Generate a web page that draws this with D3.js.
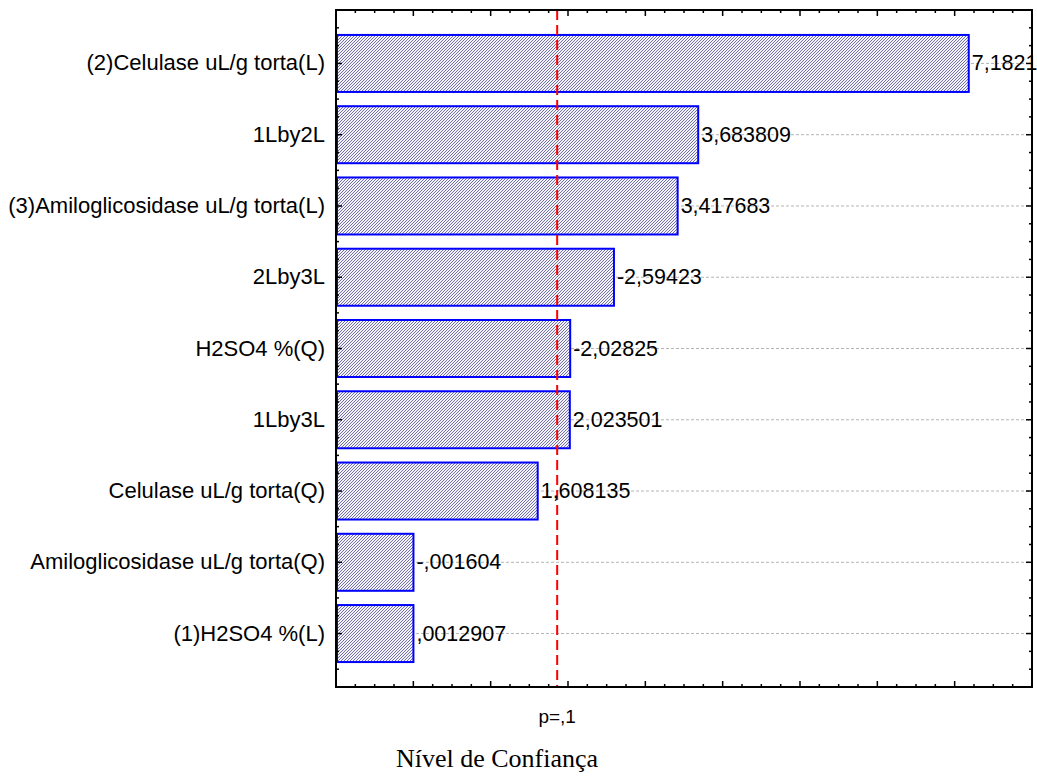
<!DOCTYPE html>
<html>
<head>
<meta charset="utf-8">
<script src="https://cdn.jsdelivr.net/npm/d3@7"></script>
<style>
body { margin: 0; background: #fff; }
svg { display: block; }
.lbl { font-family: "Liberation Sans", Arial, sans-serif; font-size: 21.5px; fill: #000; }
.cat { font-size: 22px; }
</style>
</head>
<body>
<script>
// effects, top to bottom (Pareto order)
const effects = [
	'(2)Celulase uL/g torta(L)',
	'1Lby2L',
	'(3)Amiloglicosidase uL/g torta(L)',
	'2Lby3L',
	'H2SO4 %(Q)',
	'1Lby3L',
	'Celulase uL/g torta(Q)',
	'Amiloglicosidase uL/g torta(Q)',
	'(1)H2SO4 %(L)'
];
const tValues = [7.1821, 3.683809, 3.417683, -2.59423, -2.02825, 2.023501, 1.608135, -0.001604, 0.0012907];
const xDomain = [-1, 8];
const pLimit = 1.86;
const pLabel = 'p=,1';
const xTitle = 'Nível de Confiança';

const W = 1037, H = 776;
const m = { left: 336, right: 1032, top: 10, bottom: 687 };

const svg = d3.select('body').append('svg').attr('width', W).attr('height', H);

const x = d3.scaleLinear().domain(xDomain).range([m.left, m.right]);
const y = d3.scaleBand().domain(effects).range([m.top, m.bottom])
	.paddingInner(0.2).paddingOuter(0.35);

const fmt = v => String(v).replace('.', ',').replace(/^(-?)0,/, '$1,');

// hatch fill
const pat = svg.append('defs').append('pattern')
	.attr('id', 'hatch').attr('patternUnits', 'userSpaceOnUse')
	.attr('width', 3).attr('height', 3);
pat.append('rect').attr('width', 3).attr('height', 3).attr('fill', '#f2f2f8');
pat.append('path').attr('d', 'M-1,1 L1,-1 M0,3 L3,0 M2,4 L4,2')
	.attr('stroke', '#50508e').attr('stroke-width', 0.8);

// dotted grid lines at bar centres
svg.selectAll('line.grid').data(effects).enter().append('line')
	.attr('class', 'grid')
	.attr('x1', m.left).attr('x2', m.right)
	.attr('y1', d => y(d) + y.bandwidth() / 2)
	.attr('y2', d => y(d) + y.bandwidth() / 2)
	.attr('stroke', '#b4b4b4').attr('stroke-width', 1).attr('stroke-dasharray', '3,2');

// bars
svg.selectAll('rect.bar').data(tValues).enter().append('rect')
	.attr('class', 'bar')
	.attr('x', x(xDomain[0]) + 1)
	.attr('y', (d, i) => y(effects[i]))
	.attr('width', d => x(Math.abs(d)) - x(xDomain[0]) - 1)
	.attr('height', y.bandwidth())
	.attr('fill', 'url(#hatch)')
	.attr('stroke', '#0000ff').attr('stroke-width', 2);

// p limit line
svg.append('line')
	.attr('x1', x(pLimit)).attr('x2', x(pLimit))
	.attr('y1', m.top).attr('y2', m.bottom)
	.attr('stroke', '#ff0000').attr('stroke-width', 2).attr('stroke-dasharray', '10,5');

// value labels
svg.selectAll('text.val').data(tValues).enter().append('text')
	.attr('class', 'lbl val')
	.attr('x', d => x(Math.abs(d)) + 3)
	.attr('y', (d, i) => y(effects[i]) + y.bandwidth() / 2 + 7)
	.text(d => fmt(d));

// category labels
svg.selectAll('text.cat').data(effects).enter().append('text')
	.attr('class', 'lbl cat')
	.attr('x', m.left - 11)
	.attr('y', d => y(d) + y.bandwidth() / 2 + 7)
	.attr('text-anchor', 'end')
	.text(d => d);

// frame
svg.append('rect')
	.attr('x', m.left).attr('y', m.top)
	.attr('width', m.right - m.left).attr('height', m.bottom - m.top)
	.attr('fill', 'none').attr('stroke', '#000').attr('stroke-width', 2);

// x ticks, inward on top and bottom
const xTicks = d3.range(xDomain[0], xDomain[1] + 0.001, 0.25);
const isMajor = v => Math.abs(v - Math.round(v)) < 1e-6;
[[m.bottom, -1], [m.top, 1]].forEach(([yy, dir]) => {
	svg.selectAll(null).data(xTicks).enter().append('line')
		.attr('x1', d => x(d)).attr('x2', d => x(d))
		.attr('y1', yy).attr('y2', d => yy + dir * (isMajor(d) ? 6 : 3))
		.attr('stroke', '#000').attr('stroke-width', 1.5);
});

// y ticks, quarter steps, longer at bar centres
const step = y.step();
const c0 = y(effects[0]) + y.bandwidth() / 2;
const yTicks = d3.range(-2, (effects.length - 1) * 4 + 3).map(k => ({ pos: c0 + k * step / 4, major: k % 4 === 0 }));
[[m.left, 1], [m.right, -1]].forEach(([xx, dir]) => {
	svg.selectAll(null).data(yTicks).enter().append('line')
		.attr('y1', d => d.pos).attr('y2', d => d.pos)
		.attr('x1', xx).attr('x2', d => xx + dir * (d.major ? 6 : 3))
		.attr('stroke', '#000').attr('stroke-width', 1.5);
});

// p label and title
svg.append('text').attr('class', 'lbl')
	.attr('x', x(pLimit)).attr('y', 723)
	.attr('text-anchor', 'middle').style('font-size', '19px')
	.text(pLabel);

svg.append('text')
	.attr('x', 497).attr('y', 767)
	.attr('text-anchor', 'middle')
	.style('font-family', '"Liberation Serif", "Times New Roman", serif')
	.style('font-size', '26px')
	.text(xTitle);
</script>
</body>
</html>
